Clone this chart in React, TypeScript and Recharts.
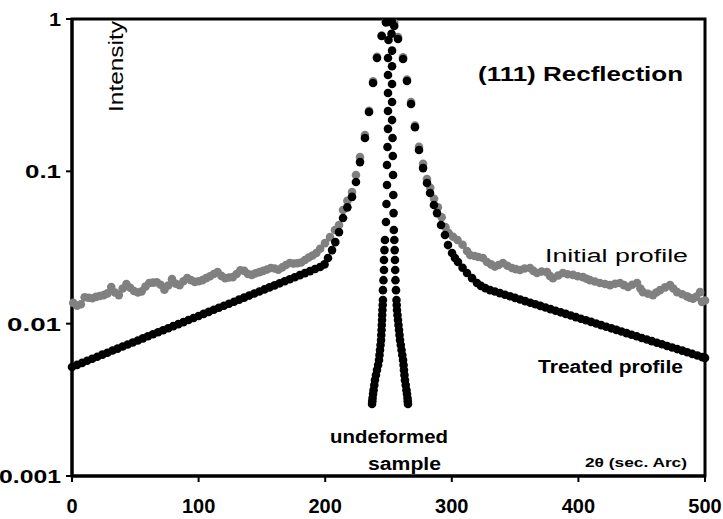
import React from 'react';
import { ScatterChart, Scatter, XAxis, YAxis, ReferenceArea } from 'recharts';

// 2θ positions (sec. arc) and intensities
const initialX = [
  1, 4, 7, 10, 13, 16, 19, 22, 25, 28, 31, 34, 37, 40, 43, 46, 49, 52, 55, 58,
  61, 64, 67, 70, 73, 76, 79, 82, 85, 88, 91, 94, 97, 100, 103, 106, 109, 112, 115, 118,
  121, 124, 127, 130, 133, 136, 139, 142, 145, 148, 151, 154, 157, 160, 163, 166, 169, 172, 175, 178,
  181, 184, 187, 190, 193, 196, 199.8, 203.8, 207.7, 210.9, 214.1, 217.5, 221.2, 224.3, 227.5, 231.4,
  234.6, 237.8, 240.9, 244.6, 248, 251, 254.5, 257.5, 261.5, 264.6, 267.8, 270.9, 274.1, 277.3,
  280.4, 283, 286, 289, 292, 295, 297.5, 301, 304.5, 308.5, 312, 314.5, 318, 321, 324.6, 327.8,
  331, 334, 337, 340.4, 344, 347.5, 350.5, 353.9, 357.5, 361.8, 364.5, 367.3, 371, 375.2, 377.5,
  379.9, 384, 387.8, 391.5, 395.7, 399.5, 403.6, 406.5, 409.2, 413, 417, 421, 425, 429, 432.9,
  436, 439.2, 442.5, 446.3, 449, 451, 455, 458.9, 461.5, 464.5, 468.5, 472.4, 475, 478, 482,
  485.8, 488, 490.5, 493, 496.1, 497.6, 500,
];
const initialY = [
  0.0137, 0.0131, 0.0134, 0.0149, 0.0148, 0.0147, 0.015, 0.0152, 0.0154, 0.0158, 0.0174, 0.016, 0.0154, 0.017, 0.0182, 0.0172, 0.0164, 0.016, 0.0163, 0.0175,
  0.0185, 0.0186, 0.0187, 0.018, 0.0167, 0.0178, 0.0196, 0.0183, 0.0179, 0.019, 0.0199, 0.0193, 0.0188, 0.019, 0.0193, 0.0199, 0.0205, 0.0212, 0.0218, 0.0206,
  0.0199, 0.0201, 0.0202, 0.0212, 0.0224, 0.0222, 0.0212, 0.0209, 0.0214, 0.0218, 0.0222, 0.0227, 0.0232, 0.023, 0.0226, 0.0234, 0.0243, 0.025, 0.0248, 0.0249,
  0.0252, 0.0262, 0.0272, 0.028, 0.0291, 0.031, 0.0338, 0.037, 0.0412, 0.0444, 0.0557, 0.064, 0.0731, 0.0946, 0.124, 0.173,
  0.25, 0.39, 0.565, 0.78, 0.96, 0.99, 0.94, 0.76, 0.56, 0.4, 0.285, 0.2, 0.145, 0.112,
  0.089, 0.078, 0.066, 0.058, 0.05, 0.043, 0.0394, 0.0372, 0.0354, 0.033, 0.03, 0.0282, 0.0278, 0.0274, 0.027, 0.0254,
  0.0245, 0.0237, 0.0243, 0.025, 0.024, 0.0232, 0.0228, 0.0225, 0.023, 0.0232, 0.0222, 0.0215, 0.022, 0.0218, 0.0206,
  0.0199, 0.0207, 0.0215, 0.0211, 0.0209, 0.0205, 0.0202, 0.0197, 0.0193, 0.0189, 0.0185, 0.0182, 0.0179, 0.0183, 0.0185,
  0.0179, 0.0174, 0.018, 0.0185, 0.017, 0.0161, 0.0157, 0.0154, 0.016, 0.0166, 0.0173, 0.0179, 0.017, 0.0161, 0.0156,
  0.0151, 0.0148, 0.0146, 0.015, 0.0161, 0.0139, 0.0142,
];

const treatedX = [
  0, 4, 8, 12, 16, 20, 24, 28, 32, 36, 40, 44, 48, 52, 56, 60, 64, 68, 72, 76,
  80, 84, 88, 92, 96, 100, 104, 108, 112, 116, 120, 124, 128, 132, 136, 140, 144, 148, 152, 156,
  160, 164, 168, 172, 176, 180, 184, 188, 192, 196, 199.5, 202.2, 205.4, 208, 210.9, 214.1, 217.5, 221.2,
  224.3, 227.5, 231.4, 234.6, 237.8, 240.9, 244.6, 248, 250.5, 252.5, 254.5, 257.5, 261.5, 264.6, 267.8,
  270.9, 274.1, 277.3, 280.4, 282.8, 285.9, 288.3, 291.5, 294.6, 297, 300.2, 302.5, 304.9, 308.5, 312,
  316, 319.9, 323, 326.5, 330.2, 334, 338, 342, 346, 350, 354, 358, 362, 366, 370, 374, 378, 382,
  386, 390, 394, 398, 402, 406, 410, 414, 418, 422, 426, 430, 434, 438, 442, 446, 450, 454, 458,
  462, 466, 470, 474, 478, 482, 486, 490, 494, 498, 500,
];
const treatedY = [
  0.0052, 0.00536, 0.00553, 0.00571, 0.00588, 0.00607, 0.00626, 0.00645, 0.00666, 0.00686, 0.00708, 0.0073, 0.00753, 0.00776, 0.00801, 0.00826, 0.00852, 0.00878, 0.00906, 0.00934,
  0.00963, 0.00993, 0.01024, 0.01057, 0.0109, 0.01124, 0.01159, 0.01195, 0.01233, 0.01271, 0.01311, 0.01352, 0.01394, 0.01438, 0.01483, 0.01529, 0.01577, 0.01627, 0.01678, 0.0173,
  0.01784, 0.0184, 0.01898, 0.01957, 0.02018, 0.02082, 0.02147, 0.02214, 0.02283, 0.02355, 0.0245, 0.027, 0.0304, 0.0343, 0.0399, 0.0494, 0.058, 0.068,
  0.0851, 0.115, 0.1655, 0.245, 0.38, 0.555, 0.773, 0.95, 0.99, 0.98, 0.9, 0.739, 0.546, 0.392, 0.277,
  0.195, 0.138, 0.105, 0.0838, 0.072, 0.0601, 0.0532, 0.0444, 0.0382, 0.0328, 0.0291, 0.027, 0.0254, 0.0233, 0.0215,
  0.0199, 0.0185, 0.0177, 0.0171, 0.0166, 0.01626, 0.01587, 0.01549, 0.01512, 0.01476, 0.01441, 0.01406, 0.01373, 0.0134, 0.01308, 0.01276, 0.01246, 0.01216,
  0.01187, 0.01159, 0.01131, 0.01104, 0.01078, 0.01052, 0.01027, 0.01002, 0.00978, 0.00955, 0.00932, 0.0091, 0.00888, 0.00867, 0.00846, 0.00826, 0.00806, 0.00787, 0.00768,
  0.0075, 0.00732, 0.00714, 0.00697, 0.00681, 0.00665, 0.00649, 0.00633, 0.00618, 0.00603, 0.00596,
];

const undeformedX = [
  250.4, 250, 249.6, 249.6, 249.6, 249.6, 249.6, 249.2, 248.8, 248.8, 248.4, 248, 247.2, 246.8, 246.4, 246.4, 246, 245.6, 245.6, 245.4,
  245.2, 245, 244.9, 244.7, 244.5, 244.3, 244.1, 243.7, 243.3, 242.9, 242.5, 241.8, 240.9, 240.1, 239.3, 238.8, 238.2, 237.8, 237.4, 237.2, 237,
  251.6, 252.4, 252.8, 252.8, 252.8, 252.8, 252.8, 253.2, 253.4, 253.6, 253.8, 254, 254.2, 254.6, 254.9, 255.1, 255.3, 255.5, 255.9, 256.3,
  256.5, 256.7, 257.1, 257.5, 257.9, 258.3, 258.7, 259.1, 259.7, 260.3, 260.9, 261.5, 261.9, 262.2, 262.6, 263, 263.6, 264.2, 264.6, 265, 265.2, 265.4,
];
const undeformedY = [
  0.956, 0.728, 0.555, 0.429, 0.327, 0.249, 0.19, 0.1445, 0.11, 0.0813, 0.061, 0.0465, 0.0354, 0.0304, 0.0262, 0.0225, 0.0193, 0.0166, 0.0143, 0.01325,
  0.0123, 0.01139, 0.01056, 0.0098, 0.00908, 0.00842, 0.0078, 0.00724, 0.00671, 0.00622, 0.00577, 0.00535, 0.00496, 0.0046, 0.00426, 0.00395, 0.00366, 0.00345, 0.00325, 0.0031, 0.00297,
  0.98, 0.8, 0.62, 0.49, 0.374, 0.285, 0.217, 0.1655, 0.126, 0.0946, 0.0699, 0.0532, 0.0412, 0.0354, 0.0304, 0.0262, 0.0225, 0.0193, 0.0166, 0.0143,
  0.01325, 0.0123, 0.01139, 0.01056, 0.0098, 0.00908, 0.00842, 0.0078, 0.00724, 0.00671, 0.00622, 0.00577, 0.00535, 0.00496, 0.0046, 0.00426, 0.00395, 0.00366, 0.00345, 0.00325, 0.0031, 0.00297,
];

const xTicks = [0, 100, 200, 300, 400, 500];
const yTicks = [0.001, 0.01, 0.1, 1];
const yTickLabels = ['0.001', '0.01', '0.1', '1'];
// the source picture is stretched sideways, so the labels are drawn wider than the font
const yTickWidths = [62, 54, 36, 12];

const toPoints = (xs: number[], ys: number[]) => xs.map((x, i) => ({ x, y: ys[i] }));

const font = '"Liberation Sans", Arial, sans-serif';

const dot = (fill: string) => (props: any) => (
  <circle cx={props.cx} cy={props.cy} r={4.3} fill={fill} />
);

function YTick({ x, y, payload }: any) {
  const i = yTicks.indexOf(payload.value);
  return (
    <text
      x={x - 3}
      y={y}
      dy={7}
      textAnchor="end"
      fontFamily={font}
      fontSize={19}
      fontWeight="bold"
      fill="#000"
      textLength={yTickWidths[i]}
      lengthAdjust="spacingAndGlyphs"
    >
      {yTickLabels[i]}
    </text>
  );
}

function Txt({ x, y, w, size, bold, children, rotate }: any) {
  return (
    <text
      x={x}
      y={y}
      fontFamily={font}
      fontSize={size}
      fontWeight={bold ? 'bold' : 'normal'}
      fill="#000"
      textLength={w}
      lengthAdjust="spacingAndGlyphs"
      transform={rotate ? `rotate(-90 ${x} ${y})` : undefined}
    >
      {children}
    </text>
  );
}

export default function App() {
  return (
    <div style={{ position: 'absolute', left: 0, top: 0, width: 723, height: 519, background: '#fff' }}>
      <ScatterChart width={723} height={519} margin={{ top: 19, right: 18, bottom: 0, left: 0 }}>
        <XAxis
          type="number"
          dataKey="x"
          domain={[0, 500]}
          ticks={xTicks}
          height={43}
          axisLine={{ stroke: '#000', strokeWidth: 3 }}
          tickLine={{ stroke: '#000', strokeWidth: 2 }}
          tickSize={6}
          tick={{ fill: '#000', fontSize: 20, fontWeight: 'bold', fontFamily: font, dy: 15 }}
        />
        <YAxis
          type="number"
          dataKey="y"
          scale="log"
          domain={[0.001, 1]}
          ticks={yTicks}
          allowDataOverflow
          width={72}
          axisLine={{ stroke: '#000', strokeWidth: 3 }}
          tickLine={{ stroke: '#000', strokeWidth: 2 }}
          tickSize={6}
          tick={<YTick />}
        />
        <ReferenceArea x1={0} x2={500} y1={0.001} y2={1} fill="none" stroke="#000" strokeWidth={3} ifOverflow="visible" />
        <Scatter data={toPoints(initialX, initialY)} shape={dot('#808080')} isAnimationActive={false} />
        <Scatter data={toPoints(treatedX, treatedY)} shape={dot('#000')} isAnimationActive={false} />
        <Scatter data={toPoints(undeformedX, undeformedY)} shape={dot('#000')} isAnimationActive={false} />
      </ScatterChart>
      <svg width={723} height={519} style={{ position: 'absolute', left: 0, top: 0, pointerEvents: 'none' }}>
        <Txt x={123} y={112} w={91} size={20} rotate>Intensity</Txt>
        <Txt x={478} y={81} w={205} size={20} bold>(111) Recflection</Txt>
        <Txt x={545} y={262} w={143} size={18}>Initial profile</Txt>
        <Txt x={538} y={373} w={145} size={18} bold>Treated profile</Txt>
        <Txt x={330} y={443} w={118} size={18} bold>undeformed</Txt>
        <Txt x={368} y={470} w={73} size={18} bold>sample</Txt>
        <Txt x={585} y={467} w={102} size={13} bold>2θ (sec. Arc)</Txt>
      </svg>
    </div>
  );
}
